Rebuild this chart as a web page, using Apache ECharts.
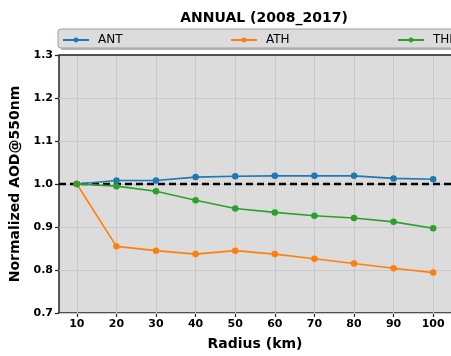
<!DOCTYPE html>
<html>
<head>
<meta charset="utf-8">
<script src="https://cdn.jsdelivr.net/npm/echarts@6/dist/echarts.min.js"></script>
<style>
  html, body { margin: 0; padding: 0; background: #fff; }
  #chart { width: 451px; height: 356px; }
</style>
</head>
<body>
<div id="chart"></div>
<script>
// Radius steps (km) and normalized AOD@550nm per site
const radius = [10, 20, 30, 40, 50, 60, 70, 80, 90, 100];
const ant = [1.000, 1.008, 1.008, 1.016, 1.018, 1.019, 1.019, 1.019, 1.013, 1.011];
const ath = [1.000, 0.855, 0.845, 0.837, 0.845, 0.837, 0.826, 0.815, 0.804, 0.794];
const the = [1.000, 0.995, 0.983, 0.962, 0.943, 0.934, 0.926, 0.921, 0.912, 0.897];
const yTicks = [0.7, 0.8, 0.9, 1.0, 1.1, 1.2, 1.3];
const seriesNames = ['ANT', 'ATH', 'THE'];
const colors = ['#1f77b4', '#ff7f0e', '#2ca02c'];

const FONT = 'DejaVu Sans';
const chart = echarts.init(document.getElementById('chart'), null, { renderer: 'canvas' });

function pairs(vals) { return radius.map((r, i) => [r, vals[i]]); }

function siteSeries(name, vals, color, z) {
  return {
    name: name,
    type: 'line',
    data: pairs(vals),
    symbol: 'circle',
    symbolSize: 6.5,
    z: z,
    lineStyle: { color: color, width: 1.6 },
    itemStyle: { color: color, borderWidth: 0 },
    emphasis: { disabled: true },
    animation: false
  };
}

const legendX = [62, 230, 397];

const option = {
  backgroundColor: '#ffffff',
  animation: false,
  title: {
    text: 'ANNUAL (2008_2017)',
    left: 259,
    textAlign: 'center',
    top: 6,
    textStyle: { fontFamily: FONT, fontWeight: 'bold', fontSize: 14, color: '#000' }
  },
  graphic: [
    { type: 'rect', z: 0, shape: { x: 60, y: 31, width: 420, height: 19, r: 3 },
      style: { fill: '#888888', opacity: 0.6 } },
    { type: 'rect', z: 1, shape: { x: 58, y: 29, width: 420, height: 19, r: 3 },
      style: { fill: '#dcdcdc', stroke: '#a0a0a0', lineWidth: 1 } },
    // top border of the plot area
    { type: 'line', z: 10, shape: { x1: 59, y1: 55, x2: 460, y2: 55 }, style: { stroke: '#222', lineWidth: 1.5 } }
  ],
  legend: seriesNames.map((n, i) => ({
    data: [n],
    left: legendX[i],
    top: 34,
    padding: 0,
    itemWidth: 26,
    itemHeight: 6,
    itemGap: 0,
    z: 5,
    selectedMode: false,
    textStyle: { fontFamily: FONT, fontSize: 12, color: '#000', padding: [0, 0, 0, 4] }
  })),
  grid: { left: 59, right: -8, top: 55, bottom: 41, show: true, backgroundColor: '#dcdcdc', borderWidth: 0 },
  xAxis: {
    type: 'value',
    min: 5.5,
    max: 104.5,
    name: 'Radius (km)',
    nameLocation: 'middle',
    nameGap: 24,
    nameTextStyle: { fontFamily: FONT, fontWeight: 'bold', fontSize: 14, color: '#000' },
    axisLine: { show: true, onZero: false, lineStyle: { color: '#222', width: 1.5 } },
    axisTick: { show: true, length: 4, customValues: radius, lineStyle: { color: '#222', width: 1.2 } },
    axisLabel: { customValues: radius, fontFamily: FONT, fontWeight: 'bold', fontSize: 11, color: '#000', margin: 6 },
    splitLine: { show: false }
  },
  yAxis: {
    type: 'value',
    min: 0.7,
    max: 1.3,
    name: 'Normalized AOD@550nm',
    nameLocation: 'middle',
    nameGap: 34,
    nameTextStyle: { fontFamily: FONT, fontWeight: 'bold', fontSize: 14, color: '#000' },
    axisLine: { show: true, lineStyle: { color: '#222', width: 1.5 } },
    axisTick: { show: true, length: 4, customValues: yTicks, lineStyle: { color: '#222', width: 1.2 } },
    axisLabel: { customValues: yTicks, fontFamily: FONT, fontWeight: 'bold', fontSize: 11, color: '#000', margin: 6,
      formatter: v => Number(v).toFixed(1) },
    splitLine: { show: false }
  },
  series: [
    {
      // grid lines and the 1.0 reference line, kept beneath the data
      name: 'frame',
      type: 'line',
      data: [],
      z: 1,
      silent: true,
      markLine: {
        z: 1,
        symbol: 'none',
        silent: true,
        animation: false,
        label: { show: false },
        data: [
          ...radius.map(r => ({ xAxis: r, lineStyle: { color: '#c8c8c8', width: 1, type: 'solid' } })),
          ...yTicks.map(t => ({ yAxis: t, lineStyle: { color: '#c8c8c8', width: 1, type: 'solid' } })),
          { yAxis: 1.0, lineStyle: { color: '#000', width: 2.4, type: [7, 4] } }
        ]
      }
    },
    siteSeries(seriesNames[0], ant, colors[0], 3),
    siteSeries(seriesNames[1], ath, colors[1], 4),
    siteSeries(seriesNames[2], the, colors[2], 5)
  ]
};

chart.setOption(option);
</script>
</body>
</html>
